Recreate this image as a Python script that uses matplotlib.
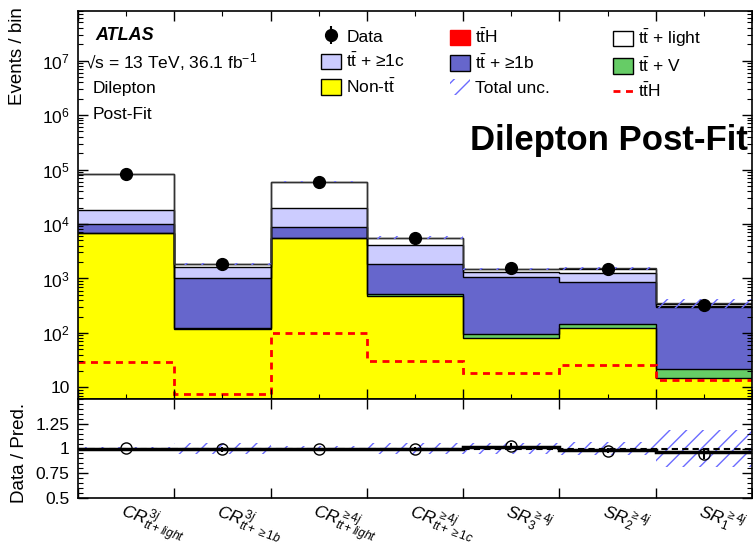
import numpy as np
import matplotlib
matplotlib.use("Agg")
from matplotlib import pyplot as plt
from matplotlib.patches import Patch
from matplotlib.lines import Line2D
from matplotlib.ticker import LogLocator, MultipleLocator, FixedLocator, NullFormatter

plt.rcParams['font.family'] = ['Liberation Sans', 'DejaVu Sans']
plt.rcParams['mathtext.fontset'] = 'custom'
plt.rcParams['mathtext.rm'] = 'Liberation Sans'
plt.rcParams['mathtext.it'] = 'Liberation Sans:italic'
plt.rcParams['mathtext.bf'] = 'Liberation Sans:bold'
plt.rcParams['hatch.linewidth'] = 1.0

# regions (bins)
bin_labels = [r"$CR^{3j}_{tt+light}$", r"$CR^{3j}_{tt+\geq 1b}$",
              r"$CR^{\geq 4j}_{tt+light}$", r"$CR^{\geq 4j}_{tt+\geq 1c}$",
              r"$SR^{\geq 4j}_{3}$", r"$SR^{\geq 4j}_{2}$", r"$SR^{\geq 4j}_{1}$"]

# post-fit yields, stacked bottom -> top
non_tt = [6800, 117, 5470, 477, 80, 124, 14.8]
tt_v = [120, 5, 130, 49, 15, 24, 7.3]
tt_b = [2940, 898, 3090, 1319, 972, 703, 274]
tt_c = [8240, 580, 11010, 2275, 266, 426, 22]
tt_light = [64470, 238, 39900, 1460, 141, 236, 19]
tt_h = [29, 7.5, 100, 30.6, 18.7, 25.5, 13.7]

data = [82600, 1830, 59700, 5610, 1535, 1500, 333]
rel_unc = [0.017, 0.06, 0.03, 0.06, 0.06, 0.07, 0.19]
ratio_line = [1.0, 0.99, 1.0, 1.0, 1.02, 0.985, 0.96]

TT = r"$\mathrm{t\bar{t}}$"
layers = [(non_tt, '#ffff00', 'Non-' + TT),
          (tt_v, '#66cc66', TT + ' + V'),
          (tt_b, '#6666cc', TT + ' + ≥1b'),
          (tt_c, '#ccccff', TT + ' + ≥1c'),
          (tt_light, '#ffffff', TT + ' + light'),
          (tt_h, '#ff0000', TT + 'H')]
HATCH_C = '#6b6bff'

W, H = 753, 549
fig = plt.figure(figsize=(W / 100, H / 100), dpi=100)
ax = fig.add_axes([78 / W, 1 - 399 / H, 674 / W, 388 / H])
axr = fig.add_axes([78 / W, 1 - 498 / H, 674 / W, 99 / H], sharex=ax)

n = len(data)
edges = np.arange(n + 1)
centers = edges[:-1] + 0.5
cum = np.cumsum([np.array(v, dtype=float) for v, _, _ in layers], axis=0)
total = cum[-1]

# stack fills from top down, then outlines
for i in range(len(layers) - 1, -1, -1):
    ax.stairs(cum[i], edges, baseline=0.1, fill=True, color=layers[i][1], lw=0)
for i in range(len(layers) - 1):
    ax.stairs(cum[i], edges, baseline=None, color='black', lw=1.0)
ax.stairs(total, edges, baseline=None, color='#333333', lw=1.0)

unc = np.array(rel_unc)
ax.stairs(total * (1 + unc), edges, baseline=total * (1 - unc), fill=True,
          facecolor='none', edgecolor=HATCH_C, hatch='//', lw=0)
ax.stairs(tt_h, edges, baseline=None, color='red', lw=2, ls=(0, (2.5, 2)))

d = np.array(data, dtype=float)
eb = ax.errorbar(centers, d, yerr=np.sqrt(d), fmt='o', color='black', ms=8.5, capsize=0, zorder=5)

ax.set_yscale('log')
ax.set_ylim(6.15, 8.1e7)
ax.set_xlim(0, n)
ax.yaxis.set_major_locator(FixedLocator([10, 1e2, 1e3, 1e4, 1e5, 1e6, 1e7]))
ax.set_yticklabels(['10'] + [r'$10^{%d}$' % k for k in range(2, 8)])
ax.yaxis.set_minor_locator(LogLocator(base=10, subs=np.arange(2, 10), numticks=20))
ax.yaxis.set_minor_formatter(NullFormatter())
ax.set_xticks(edges)
ax.tick_params(axis='x', labelbottom=False)

# ratio panel
axr.stairs(1 + unc, edges, baseline=1 - unc, fill=True, facecolor='none',
           edgecolor=HATCH_C, hatch='//', lw=0)
axr.stairs(ratio_line, edges, baseline=None, color='black', lw=2.5)
axr.axhline(1, color='black', lw=1.5, ls=(0, (3, 2)))
axr.errorbar(centers, d / total, yerr=np.sqrt(d) / total, fmt='o', mfc='none',
             mec='black', ecolor='black', ms=8, capsize=0, zorder=5)
axr.set_ylim(0.5, 1.5)
axr.set_yticks([0.5, 0.75, 1, 1.25])
axr.set_yticklabels(['0.5', '0.75', '1', '1.25'])
axr.yaxis.set_minor_locator(MultipleLocator(0.05))
axr.set_xticks(edges)
axr.set_xticks(centers, minor=True)
axr.set_xticklabels([''] * len(edges))
axr.set_xticklabels(bin_labels, minor=True, rotation=-20, fontsize=12.5, ha='left',
                    rotation_mode='anchor')

for a in (ax, axr):
    a.tick_params(which='both', direction='in', top=True, right=True, labelsize=12.5)
    a.tick_params(which='major', length=7, width=1)
    a.tick_params(which='minor', length=3.5, width=0.8)
    a.tick_params(axis='y', pad=6)
    for s in a.spines.values():
        s.set_linewidth(1.2)
axr.tick_params(axis='x', which='minor', length=0, pad=0, labelsize=12.5)

fig.text(18 / W, 1 - 7 / H, 'Events / bin', rotation=90, ha='center', va='top', fontsize=13.5)
fig.text(20 / W, 1 - 453 / H, 'Data / Pred.', rotation=90, ha='center', va='center', fontsize=13.5)

# labels
fig.text(95 / W, 1 - 35 / H, 'ATLAS', fontsize=13, fontweight='bold', style='italic', va='center')
fig.text(85 / W, 1 - 62 / H, '√s = 13 TeV, 36.1 fb$^{-1}$', fontsize=12.5, va='center')
fig.text(93 / W, 1 - 88 / H, 'Dilepton', fontsize=12.5, va='center')
fig.text(93 / W, 1 - 115 / H, 'Post-Fit', fontsize=12.5, va='center')
fig.text(748 / W, 1 - 150 / H, 'Dilepton Post-Fit', fontsize=25, fontweight='bold',
         ha='right', va='baseline')

def box(c, edge='black'):
    return Patch(facecolor=c, edgecolor=edge, lw=1)

col1 = [(eb, 'Data'), (box('#ccccff'), layers[3][2]), (box('#ffff00'), layers[0][2])]
col2 = [(box('#ff0000', '#ff0000'), layers[5][2]), (box('#6666cc'), layers[2][2]),
        (Patch(facecolor='none', edgecolor=HATCH_C, hatch='//', lw=0), 'Total unc.')]
col3 = [(box('#ffffff'), layers[4][2]), (box('#66cc66'), layers[1][2]),
        (Line2D([], [], color='red', lw=2, ls=(0, (2.5, 2))), TT + 'H')]
for x0, col in ((321, col1), (450, col2), (613, col3)):
    leg = fig.legend([h for h, _ in col], [l for _, l in col], loc='upper left',
                     bbox_to_anchor=(x0 / W, 1 - 28 / H), frameon=False, fontsize=12.5,
                     borderpad=0, borderaxespad=0, handlelength=1.15, handleheight=1.0,
                     handletextpad=0.3, labelspacing=0.42)

fig.savefig('out.png', dpi=100)
